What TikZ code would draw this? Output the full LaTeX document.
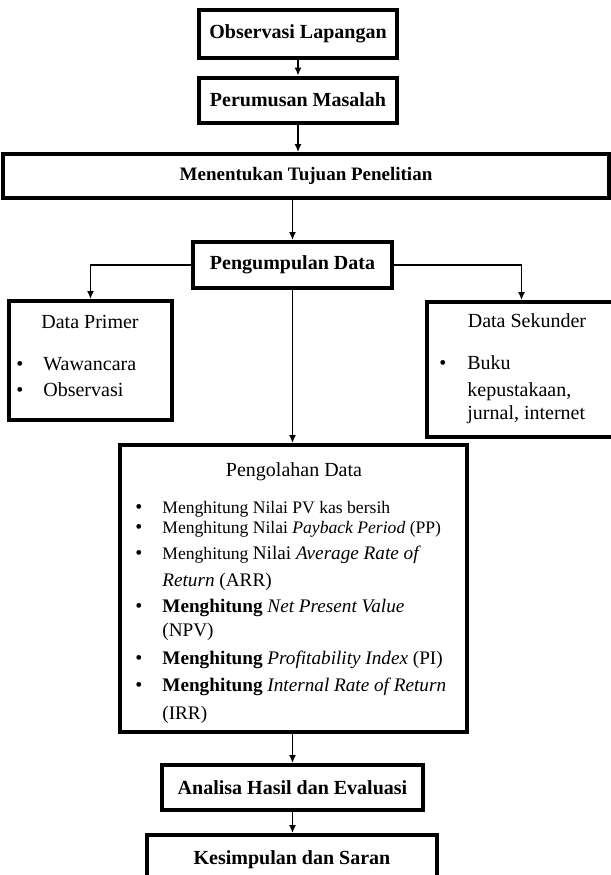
\documentclass[tikz,border=0pt]{standalone}
\usepackage{fontspec}
\setmainfont{Liberation Serif}
\usetikzlibrary{arrows.meta}
\tikzset{
  kotak/.style={draw, line width=2pt, rectangle, inner sep=0pt, align=center,
    font=\bfseries\fontsize{10}{12}\selectfont},
  panah/.style={line width=0.7pt, -{Latex[length=4pt,width=3.5pt]}},
  isi/.style={anchor=base west, inner sep=0pt, font=\fontsize{10}{12}\selectfont},
  judul/.style={anchor=base, inner sep=0pt, font=\fontsize{10}{12}\selectfont},
  kecil/.style={isi, font=\fontsize{8.8}{11}\selectfont},
  besar/.style={isi, font=\fontsize{9.6}{12}\selectfont}
}
\def\titik{\textbullet}
\begin{document}
\begin{tikzpicture}[x=0.5pt, y=-0.5pt]
		%%%%% START %%%%%
		\useasboundingbox (0, 0) rectangle (611, 875);
		\clip (0, 0) rectangle (611, 875);
		
		\node[kotak, minimum width=99pt, minimum height=24pt] (obs) at (298, 34) {Observasi Lapangan};
		\node[kotak, minimum width=99pt, minimum height=22.5pt] (rum) at (298, 100) {Perumusan Masalah};
		\node[kotak, minimum width=303pt, minimum height=22pt, font=\bfseries\fontsize{9.5}{11}\selectfont] (tuj) at (306, 176) {Menentukan Tujuan Penelitian};
		\node[kotak, minimum width=99.5pt, minimum height=23pt] (kum) at (292.5, 265) {Pengumpulan Data};
		
		\node[kotak, minimum width=81.5pt, minimum height=59.5pt] (pri) at (90.5, 360.5) {};
		\node[kotak, minimum width=94.5pt, minimum height=67.5pt] (sek) at (521.5, 369.5) {};
		\node[kotak, minimum width=173.5pt, minimum height=143.5pt] (olah) at (293.5, 588.5) {};
		
		\node[kotak, minimum width=130.5pt, minimum height=22.5pt] (ana) at (292.5, 787.5) {Analisa Hasil dan Evaluasi};
		\node[kotak, minimum width=145pt, minimum height=25pt] (kes) at (292, 860) {Kesimpulan dan Saran};
		
		% data primer
		\node[judul] (priA) at (90, 328) {Data Primer};
		\node[judul] (priB) at (20, 370) {\titik};
		\node[isi] (priC) at (43, 370) {Wawancara};
		\node[judul] (priD) at (20, 396) {\titik};
		\node[isi] (priE) at (43, 396) {Observasi};
		
		% data sekunder
		\node[judul] (sekA) at (527, 327) {Data Sekunder};
		\node[judul] (sekB) at (443, 369) {\titik};
		\node[isi] (sekC) at (467, 369) {Buku};
		\node[isi] (sekD) at (467, 396) {kepustakaan,};
		\node[isi] (sekE) at (467, 419) {jurnal, internet};
		
		% pengolahan data
		\node[judul] (olahA) at (294, 476) {Pengolahan Data};
		\foreach \y in {513, 533, 559, 612, 664, 691}
			\node[judul] at (139, \y) {\titik};
		\node[kecil] (olahB) at (162, 513) {Menghitung Nilai PV kas bersih};
		\node[kecil] (olahC) at (162, 533) {Menghitung Nilai \textit{Payback Period} (PP)};
		\node[kecil] (olahD) at (162, 559) {Menghitung {\fontsize{9.6}{12}\selectfont Nilai \textit{Average Rate of}}};
		\node[besar] (olahE) at (162, 586) {\textit{Return} (ARR)};
		\node[besar] (olahF) at (162, 612) {\textbf{Menghitung} \textit{Net Present Value}};
		\node[besar] (olahG) at (162, 636) {(NPV)};
		\node[besar] (olahH) at (162, 664) {\textbf{Menghitung} \textit{Profitability Index} (PI)};
		\node[besar] (olahI) at (162, 691) {\textbf{Menghitung} \textit{Internal Rate of Return}};
		\node[besar] (olahJ) at (162, 719) {(IRR)};
		
		% panah
		\draw[panah] (obs) -- (rum);
		\draw[panah] (rum) -- (tuj.north -| rum);
		\draw[panah] (tuj.south -| kum) -- (kum);
		\draw[panah] (kum.west) -| (pri);
		\draw[panah] (kum.east) -| (sek);
		\draw[panah] (kum.south) -- (kum.south |- olah.north);
		\draw[panah] (olah.south -| ana) -- (ana);
		\draw[panah] (ana) -- (kes.north -| ana);
		
		%%%%% END %%%%%
\end{tikzpicture}
\end{document}
